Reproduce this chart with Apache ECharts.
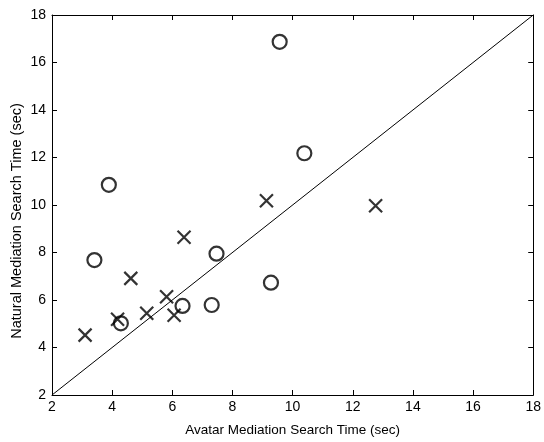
<!DOCTYPE html>
<html>
<head>
<meta charset="utf-8">
<script src="https://cdn.jsdelivr.net/npm/echarts@6/dist/echarts.min.js"></script>
<style>
  html, body { margin: 0; padding: 0; background: #fff; }
  #chart { width: 544px; height: 442px; }
</style>
</head>
<body>
<div id="chart"></div>
<script>
// Search times (sec): avatar mediation (x) vs natural mediation (y)
const circleX = [3.41, 3.89, 4.29, 6.34, 7.31, 7.47, 9.28, 9.57, 10.39];
const circleY = [7.68, 10.85, 5.02, 5.75, 5.79, 7.95, 6.73, 16.87, 12.18];
const crossX = [3.10, 4.18, 4.62, 5.15, 5.81, 6.06, 6.39, 9.13, 12.76];
const crossY = [4.52, 5.19, 6.91, 5.44, 6.14, 5.36, 8.64, 10.18, 9.97];
// Equal-time diagonal
const diagX = [2, 18];
const diagY = [2, 18];
const tickValues = [2, 4, 6, 8, 10, 12, 14, 16, 18];
const xTitle = 'Avatar Mediation Search Time (sec)';
const yTitle = 'Natural Mediation Search Time (sec)';

const pairs = (xs, ys) => xs.map((x, i) => [x, ys[i]]);

const font = 'Liberation Sans, Arial, sans-serif';
const baseAxis = {
  min: tickValues[0],
  max: tickValues[tickValues.length - 1],
  interval: 2,
  splitLine: { show: false },
  axisLine: { show: true, onZero: false, lineStyle: { color: '#000', width: 1 } },
  axisTick: { show: true, inside: true, length: 5, lineStyle: { color: '#000', width: 1 } }
};

const chart = echarts.init(document.getElementById('chart'), null, { renderer: 'canvas' });
chart.setOption({
  backgroundColor: '#fff',
  animation: false,
  grid: { left: 52, right: 10, top: 15, bottom: 46, containLabel: false },
  xAxis: [
    Object.assign({}, baseAxis, {
      type: 'value', position: 'bottom',
      name: xTitle,
      nameLocation: 'middle', nameGap: 28,
      nameTextStyle: { color: '#000', fontFamily: font, fontSize: 13.5 },
      axisLabel: { color: '#000', fontFamily: font, fontSize: 14, margin: 5 }
    }),
    Object.assign({}, baseAxis, {
      type: 'value', position: 'top', axisLabel: { show: false }
    })
  ],
  yAxis: [
    Object.assign({}, baseAxis, {
      type: 'value', position: 'left',
      axisLabel: { color: '#000', fontFamily: font, fontSize: 14, margin: 6 }
    }),
    Object.assign({}, baseAxis, {
      type: 'value', position: 'right', axisLabel: { show: false }
    })
  ],
  graphic: [{
    type: 'text',
    x: 17,
    y: 221,
    rotation: Math.PI / 2,
    style: {
      text: yTitle,
      fill: '#000',
      font: '14.5px ' + font,
      align: 'center',
      verticalAlign: 'middle'
    }
  }],
  series: [
    {
      type: 'line',
      data: pairs(diagX, diagY),
      showSymbol: false,
      lineStyle: { color: '#000', width: 1 },
      silent: true,
      z: 1
    },
    {
      type: 'scatter',
      data: pairs(circleX, circleY),
      symbol: 'circle',
      symbolSize: 14,
      itemStyle: { color: 'rgba(0,0,0,0)', borderColor: '#000', borderWidth: 2.2 },
      z: 3
    },
    {
      type: 'scatter',
      data: pairs(crossX, crossY),
      symbol: 'path://M0,0L10,10M10,0L0,10',
      symbolSize: 13,
      itemStyle: { color: 'none', borderColor: '#000', borderWidth: 2.2 },
      z: 3
    }
  ]
});
</script>
</body>
</html>
